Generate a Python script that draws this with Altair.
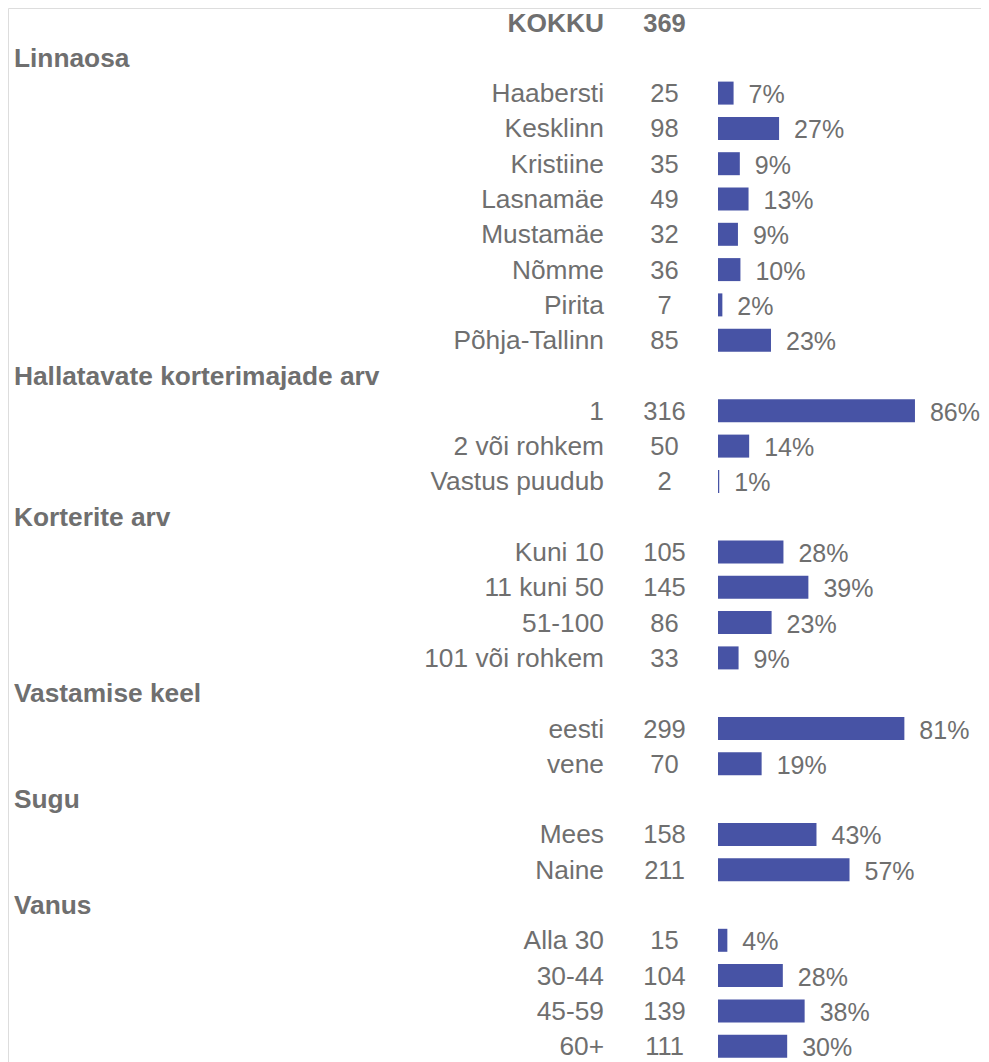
import altair as alt
import pandas as pd

TOTAL = 369

headers = ["Linnaosa", "Hallatavate korterimajade arv", "Korterite arv",
           "Vastamise keel", "Sugu", "Vanus"]

g_linnaosa = ["Haabersti", "Kesklinn", "Kristiine", "Lasnamäe", "Mustamäe",
              "Nõmme", "Pirita", "Põhja-Tallinn"]
n_linnaosa = [25, 98, 35, 49, 32, 36, 7, 85]
p_linnaosa = [7, 27, 9, 13, 9, 10, 2, 23]

g_majad = ["1", "2 või rohkem", "Vastus puudub"]
n_majad = [316, 50, 2]
p_majad = [86, 14, 1]

g_korterid = ["Kuni 10", "11 kuni 50", "51-100", "101 või rohkem"]
n_korterid = [105, 145, 86, 33]
p_korterid = [28, 39, 23, 9]

g_keel = ["eesti", "vene"]
n_keel = [299, 70]
p_keel = [81, 19]

g_sugu = ["Mees", "Naine"]
n_sugu = [158, 211]
p_sugu = [43, 57]

g_vanus = ["Alla 30", "30-44", "45-59", "60+"]
n_vanus = [15, 104, 139, 111]
p_vanus = [4, 28, 38, 30]

groups = [
    (headers[0], g_linnaosa, n_linnaosa, p_linnaosa),
    (headers[1], g_majad, n_majad, p_majad),
    (headers[2], g_korterid, n_korterid, p_korterid),
    (headers[3], g_keel, n_keel, p_keel),
    (headers[4], g_sugu, n_sugu, p_sugu),
    (headers[5], g_vanus, n_vanus, p_vanus),
]

rows = [{"row": 0, "label": "KOKKU", "n": str(TOTAL), "value": None,
         "pct": "", "kind": "total"}]
r = 1
for h, labs, ns, ps in groups:
    rows.append({"row": r, "label": h, "n": "", "value": None, "pct": "", "kind": "header"})
    r += 1
    for lab, n, p in zip(labs, ns, ps):
        rows.append({"row": r, "label": lab, "n": str(n), "value": n / TOTAL * 100,
                     "pct": f"{p}%", "kind": "item"})
        r += 1

df = pd.DataFrame(rows)

GRAY = "#6F6F6F"
BLUE = "#4753A5"
FONT = "Liberation Sans"
FS = 26.3
FS_NUM = 25.5
FS_PCT = 25

H = 1054
STEP = 35.3
Y0 = -14.5 / STEP
ys = alt.Y("row:Q", scale=alt.Scale(domain=[Y0, Y0 + H / STEP], reverse=True,
                                     nice=False, zero=False, padding=0), axis=None)

base = alt.Chart(df)

header_l = base.transform_filter("datum.kind == 'header'").mark_text(
    align="left", baseline="middle", font=FONT, fontSize=FS, fontWeight="bold",
    color=GRAY, dy=1
).encode(x=alt.value(6), y=ys, text="label:N")

total_l = base.transform_filter("datum.kind == 'total'").mark_text(
    align="right", baseline="middle", font=FONT, fontSize=FS, fontWeight="bold",
    color=GRAY, dy=1
).encode(x=alt.value(596), y=ys, text="label:N")

total_n = base.transform_filter("datum.kind == 'total'").mark_text(
    align="center", baseline="middle", font=FONT, fontSize=FS_NUM, fontWeight="bold",
    color=GRAY, dy=1
).encode(x=alt.value(656.5), y=ys, text="n:N")

item_l = base.transform_filter("datum.kind == 'item'").mark_text(
    align="right", baseline="middle", font=FONT, fontSize=FS,
    color=GRAY, dy=1
).encode(x=alt.value(596), y=ys, text="label:N")

item_n = base.transform_filter("datum.kind == 'item'").mark_text(
    align="center", baseline="middle", font=FONT, fontSize=FS_NUM,
    color=GRAY, dy=1
).encode(x=alt.value(656.5), y=ys, text="n:N")

xs = alt.X("value:Q", scale=alt.Scale(domain=[0, 100], range=[710, 940], padding=0),
           axis=None)

bars = base.transform_filter("datum.kind == 'item'").mark_bar(
    orient="horizontal", size=23, color=BLUE
).encode(x=xs, y=ys)

pct = base.transform_filter("datum.kind == 'item'").mark_text(
    align="left", baseline="middle", font=FONT, fontSize=FS_PCT,
    color=GRAY, dx=15, dy=2
).encode(x=xs, y=ys, text="pct:N")

chart = alt.layer(header_l, total_l, total_n, item_l, item_n, bars, pct).properties(
    width=973, height=H, padding=0,
    autosize=alt.AutoSizeParams(type="none")
).configure_view(stroke=None).configure(background="white")

chart.save("out.html", embed_options={"renderer": "svg", "actions": False})
